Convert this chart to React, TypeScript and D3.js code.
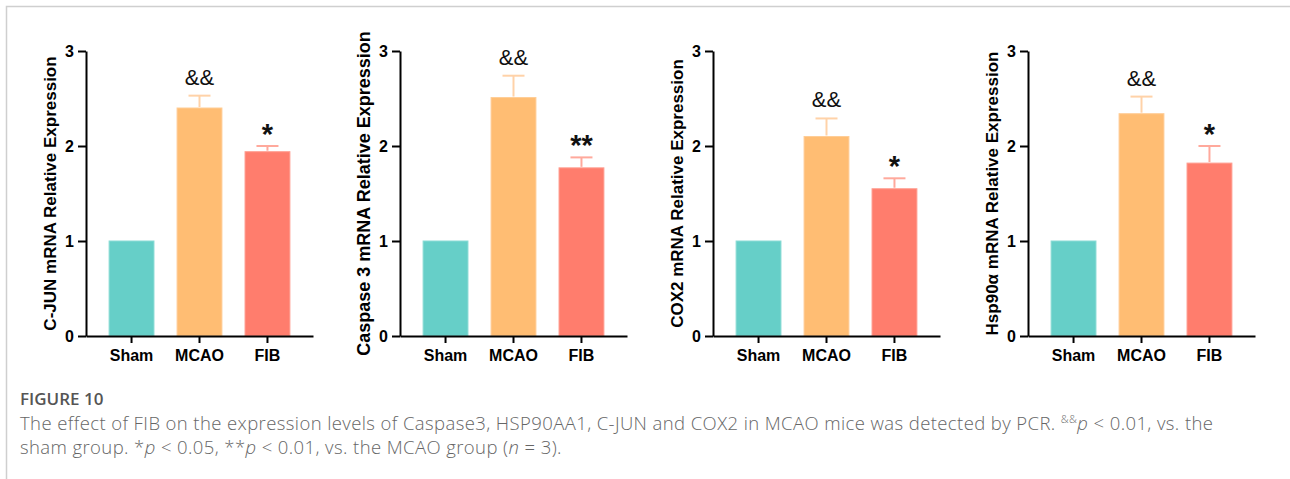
import React, { useEffect, useRef } from 'react'
import * as d3 from 'd3'

// groups on the x axis
const groups = ['Sham', 'MCAO', 'FIB']
const yTicks = [0, 1, 2, 3]

// mean and SEM
const cjunMean = [1.0, 2.4, 1.94]
const cjunErr = [0, 0.13, 0.06]
const casp3Mean = [1.0, 2.51, 1.77]
const casp3Err = [0, 0.23, 0.11]
const cox2Mean = [1.0, 2.1, 1.55]
const cox2Err = [0, 0.19, 0.11]
const hspMean = [1.0, 2.34, 1.82]
const hspErr = [0, 0.18, 0.18]

// significance marks
const cjunMarks = ['', '&&', '*']
const casp3Marks = ['', '&&', '**']
const cox2Marks = ['', '&&', '*']
const hspMarks = ['', '&&', '*']

const yLabels = [
    'C-JUN mRNA Relative Expression',
    'Caspase 3 mRNA Relative Expression',
    'COX2 mRNA Relative Expression',
    'Hsp90α mRNA Relative Expression'
]

const panels = [
    { mean: cjunMean, err: cjunErr, marks: cjunMarks, label: yLabels[0] },
    { mean: casp3Mean, err: casp3Err, marks: casp3Marks, label: yLabels[1] },
    { mean: cox2Mean, err: cox2Err, marks: cox2Marks, label: yLabels[2] },
    { mean: hspMean, err: hspErr, marks: hspMarks, label: yLabels[3] }
]

// layout
const width = 1290, height = 479
const axisX = [86, 400, 713, 1028]
const labelSize = [17, 18, 17, 17]
const plotW = 227
const top = 51, bottom = 336
const barColors = ['#66cfc8', '#ffbd73', '#ff7d6d']
const barEdge = ['#8adbd5', '#ffcd96', '#ff9d90']
const errColors = ['#9fe0db', '#ffd2a8', '#ffa99c']
const font = 'Liberation Sans, Arial, Helvetica, sans-serif'

export default function App() {
    const ref = useRef<SVGSVGElement>(null)

    useEffect(() => {
        const svg = d3.select(ref.current)
        svg.selectAll('*').remove()

        // page frame
        svg.append('path')
            .attr('d', `M6.5,${height}V6.5H${width}`)
            .attr('fill', 'none')
            .attr('stroke', '#cfcfcf')
            .attr('stroke-width', 1.5)

        const y = d3.scaleLinear().domain([0, 3]).range([bottom, top])
        const x = d3.scaleBand().domain(groups).range([0, plotW])
            .paddingInner(0.34).paddingOuter(0.34)

        panels.forEach((p, k) => {
            const g = svg.append('g').attr('transform', `translate(${axisX[k]},0)`)

            // bars
            g.selectAll('.bar')
                .data(p.mean)
                .enter().append('rect')
                .attr('class', 'bar')
                .attr('x', (d, i) => x(groups[i])!)
                .attr('y', d => y(d))
                .attr('width', x.bandwidth())
                .attr('height', d => y(0) - y(d))
                .attr('fill', (d, i) => barColors[i])
                .attr('stroke', (d, i) => barEdge[i])
                .attr('stroke-width', 1)

            // error bars (upper half only)
            const eb = g.selectAll('.err')
                .data(p.mean.map((m, i) => ({ m, e: p.err[i], i })).filter(d => d.e > 0))
                .enter().append('g')
                .attr('class', 'err')
                .attr('stroke', d => errColors[d.i])
                .attr('stroke-width', 2)
            eb.append('line')
                .attr('x1', d => x(groups[d.i])! + x.bandwidth() / 2)
                .attr('x2', d => x(groups[d.i])! + x.bandwidth() / 2)
                .attr('y1', d => y(d.m) - 1)
                .attr('y2', d => y(d.m + d.e))
            eb.append('line')
                .attr('x1', d => x(groups[d.i])! + x.bandwidth() / 2 - 11)
                .attr('x2', d => x(groups[d.i])! + x.bandwidth() / 2 + 11)
                .attr('y1', d => y(d.m + d.e))
                .attr('y2', d => y(d.m + d.e))

            // significance marks
            g.selectAll('.mark')
                .data(p.marks.map((s, i) => ({ s, i })).filter(d => d.s))
                .enter().append('text')
                .attr('class', 'mark')
                .attr('x', d => x(groups[d.i])! + x.bandwidth() / 2)
                .attr('y', d => y(p.mean[d.i] + p.err[d.i]) - (d.s[0] === '&' ? 11 : 2))
                .attr('text-anchor', 'middle')
                .style('font-family', font)
                .style('font-size', d => d.s[0] === '&' ? '22px' : '29px')
                .style('font-weight', d => d.s[0] === '&' ? 400 : 700)
                .attr('fill', '#111')
                .text(d => d.s)

            // axes
            const ya = g.append('g')
                .call(d3.axisLeft(y).tickValues(yTicks).tickSize(8).tickSizeOuter(0).tickPadding(4).tickFormat(d3.format('d')))
            const xa = g.append('g')
                .attr('transform', `translate(0,${bottom})`)
                .call(d3.axisBottom(x).tickSize(7).tickSizeOuter(0).tickPadding(7))
            ;[ya, xa].forEach(a => {
                a.selectAll('path, line').attr('stroke', '#000').attr('stroke-width', 2)
                a.selectAll('text')
                    .attr('fill', '#000')
                    .style('font-family', font)
                    .style('font-size', '16px')
                    .style('font-weight', 700)
            })

            // y label
            g.append('text')
                .attr('transform', `translate(-36,${(top + bottom) / 2}) rotate(-90)`)
                .attr('text-anchor', 'middle')
                .attr('dominant-baseline', 'central')
                .style('font-family', font)
                .style('font-size', labelSize[k] + 'px')
                .style('font-weight', 700)
                .attr('fill', '#000')
                .text(p.label)
        })

        // caption
        const cap = svg.append('g').style('font-family', 'Open Sans, sans-serif')
        cap.append('text')
            .attr('x', 20).attr('y', 405)
            .style('font-size', '17px')
            .style('font-weight', 600)
            .attr('fill', '#555')
            .text('FIGURE 10')
        const l1 = cap.append('text')
            .attr('x', 20).attr('y', 430)
            .style('font-size', '18.5px')
            .style('font-weight', 300)
            .style('letter-spacing', '0.4px')
            .attr('fill', '#666')
        l1.append('tspan').text('The effect of FIB on the expression levels of Caspase3, HSP90AA1, C-JUN and COX2 in MCAO mice was detected by PCR. ')
        l1.append('tspan').attr('dy', -7).style('font-size', '11px').text('&&')
        l1.append('tspan').attr('dy', 7).style('font-style', 'italic').text('p')
        l1.append('tspan').text(' < 0.01, vs. the')
        const l2 = cap.append('text')
            .attr('x', 20).attr('y', 454)
            .style('font-size', '18.5px')
            .style('font-weight', 300)
            .style('letter-spacing', '0.4px')
            .attr('fill', '#666')
        l2.append('tspan').text('sham group. *')
        l2.append('tspan').style('font-style', 'italic').text('p')
        l2.append('tspan').text(' < 0.05, **')
        l2.append('tspan').style('font-style', 'italic').text('p')
        l2.append('tspan').text(' < 0.01, vs. the MCAO group (')
        l2.append('tspan').style('font-style', 'italic').text('n')
        l2.append('tspan').text(' = 3).')
    }, [])

    return (
        <svg ref={ref} width={width} height={height}
            style={{ position: 'absolute', left: 0, top: 0, background: '#fff' }} />
    )
}
